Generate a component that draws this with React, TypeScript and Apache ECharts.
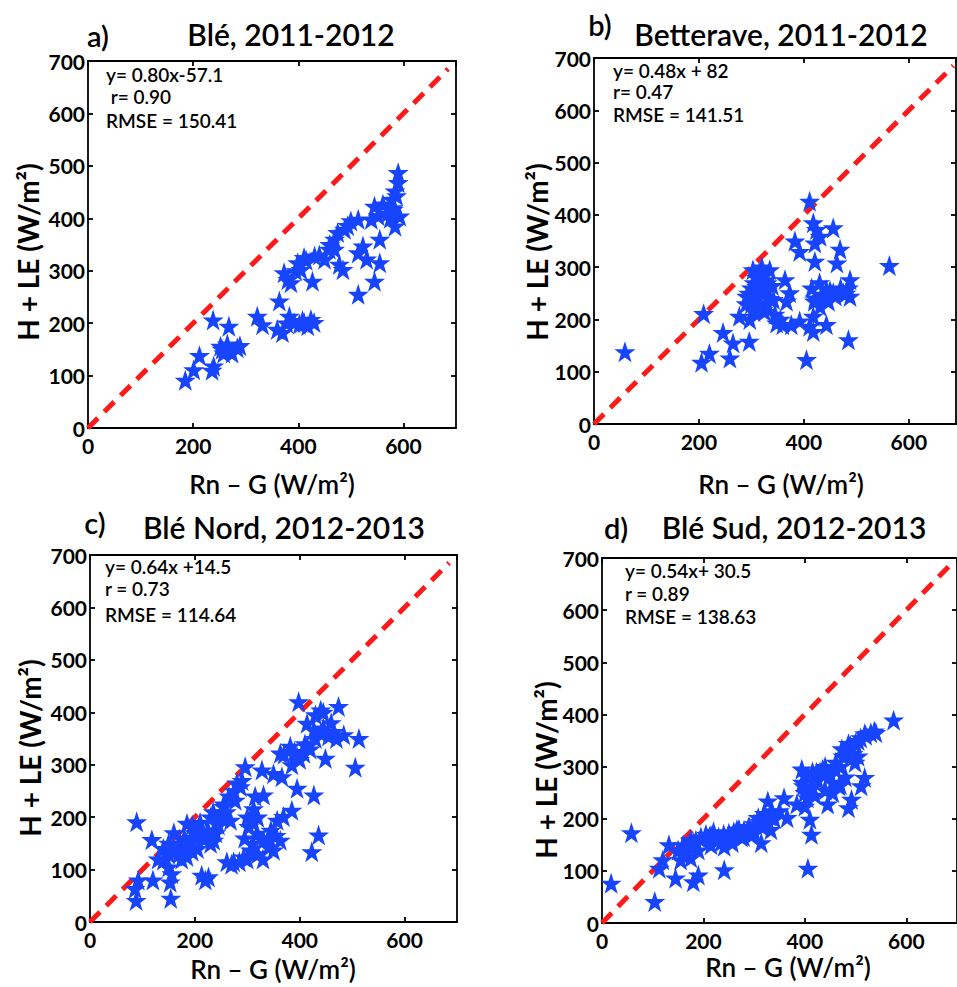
import React, { useEffect, useRef } from "react";
import * as echarts from "echarts";

// ---------- data ----------
const panelLetters = ["a)", "b)", "c)", "d)"];
const panelTitles = ["Blé, 2011-2012", "Betterave, 2011-2012", "Blé Nord, 2012-2013", "Blé Sud, 2012-2013"];
const eqLines = [
  ["y= 0.80x-57.1", " r= 0.90", "RMSE = 150.41"],
  ["y= 0.48x + 82", "r= 0.47", "RMSE = 141.51"],
  ["y= 0.64x +14.5", "r = 0.73", "RMSE = 114.64"],
  ["y= 0.54x+ 30.5", "r = 0.89", "RMSE = 138.63"],
];
const xName = "Rn – G (W/m²)";
const yName = "H + LE (W/m²)";
const axisMax = [700, 690, 700, 700];
const oneToOne: [number, number][] = [[0, 0], [685, 685]];

const bleA: [number, number][] = [
  [185, 91], [201, 111], [212, 138], [238, 206], [268, 194], [236, 110], [239, 118], [252, 156],
  [258, 143], [265, 150], [274, 143], [289, 157], [284, 153], [265, 160], [255, 150],
  [322, 213], [332, 197], [364, 242], [360, 188], [370, 182], [383, 213], [392, 201], [402, 198],
  [411, 201], [424, 207], [430, 201], [408, 205], [418, 195], [378, 200],
  [373, 296], [380, 283], [386, 277], [399, 315], [405, 302], [427, 280], [411, 325], [431, 328],
  [450, 322], [459, 341], [469, 360], [475, 373], [488, 379], [494, 386], [485, 302], [478, 312],
  [395, 300], [415, 320], [440, 330], [460, 350], [469, 341],
  [514, 398], [539, 398], [552, 405], [523, 347], [514, 334], [530, 322], [514, 255], [545, 280],
  [555, 315], [555, 360], [561, 427], [581, 417], [584, 385], [593, 404], [584, 452], [590, 468],
  [590, 487], [578, 436], [587, 443], [545, 423], [500, 395], [570, 410], [575, 400], [580, 420],
];

const betteraveB: [number, number][] = [
  [59, 138], [205, 118], [220, 135], [209, 211], [246, 175], [265, 155], [259, 126], [296, 158],
  [277, 206], [297, 200], [291, 244], [303, 295], [316, 283], [329, 276], [335, 295], [310, 263],
  [319, 251], [303, 238], [329, 232], [322, 219], [342, 238], [364, 276], [373, 251], [367, 235],
  [348, 193], [360, 190], [376, 190], [392, 197], [411, 187], [418, 177], [443, 190], [405, 123],
  [411, 426], [418, 385], [424, 372], [431, 359], [421, 346], [456, 375], [383, 350], [392, 330],
  [421, 311], [469, 334], [463, 308], [488, 276], [485, 260], [488, 244], [475, 251], [456, 251],
  [443, 257], [434, 248], [421, 241], [431, 225], [447, 235], [418, 206], [485, 161], [563, 303],
  [305, 270], [310, 280], [315, 290], [320, 300], [325, 285], [330, 270], [300, 260], [295, 250],
  [310, 250], [320, 260], [330, 255], [335, 240], [340, 265], [300, 230], [315, 225], [345, 210],
  [355, 200], [325, 215], [290, 230], [305, 215], [440, 240], [450, 255], [460, 245], [470, 260],
  [480, 250], [430, 270], [420, 235], [415, 260],
];

const bleNordC: [number, number][] = [
  [89, 191], [88, 41], [86, 64], [92, 80], [120, 80], [118, 157], [154, 45], [153, 76], [156, 92],
  [150, 105], [140, 118], [150, 150], [166, 137], [172, 150], [185, 188], [178, 131], [191, 143],
  [201, 162], [210, 175], [223, 162], [236, 156], [213, 89], [226, 86], [220, 80], [242, 194],
  [255, 220], [268, 194], [277, 232], [287, 258], [296, 296], [261, 115], [274, 115], [293, 124],
  [306, 137], [312, 216], [303, 182], [319, 169], [331, 156], [341, 143], [350, 137], [363, 156],
  [357, 194], [369, 201], [385, 213], [331, 242], [328, 290], [350, 283], [366, 277], [395, 255],
  [427, 242], [436, 166], [423, 134], [363, 322], [382, 335], [395, 315], [408, 322], [414, 335],
  [398, 420], [414, 379], [440, 404], [440, 360], [449, 312], [474, 411], [484, 357], [513, 350],
  [506, 295], [465, 363], [427, 366],
  [160, 140], [170, 130], [180, 160], [190, 150], [200, 170], [205, 140], [215, 160], [225, 175],
  [230, 150], [240, 170], [245, 185], [250, 200], [260, 210], [175, 120], [185, 125], [195, 135],
  [140, 140], [150, 130], [130, 120], [210, 190], [230, 200], [255, 225], [265, 240], [275, 250],
  [280, 265], [290, 270], [300, 120], [285, 115], [270, 110], [310, 150], [320, 130], [330, 120],
  [340, 160], [345, 175], [355, 165], [310, 190], [300, 200], [295, 160], [315, 240], [320, 200],
  [370, 320], [390, 325], [400, 310], [385, 300], [410, 340], [420, 330], [430, 350], [445, 370],
  [455, 355], [460, 380], [470, 350], [430, 395], [445, 400], [160, 170], [195, 185], [235, 210],
];

const bleSudD: [number, number][] = [
  [18, 76], [58, 173], [104, 41], [113, 105], [120, 121], [132, 150], [145, 86], [155, 121],
  [164, 147], [180, 79], [190, 92], [168, 134], [180, 154], [196, 160], [212, 166], [228, 160],
  [241, 102], [241, 147], [257, 154], [266, 179], [279, 166], [289, 183], [301, 173], [314, 154],
  [308, 202], [320, 192], [327, 234], [333, 179], [359, 240], [365, 202], [384, 228], [394, 295],
  [397, 263], [400, 224], [410, 199], [413, 170], [406, 105], [423, 289], [435, 295], [448, 282],
  [445, 228], [461, 308], [467, 263], [486, 221], [492, 237], [473, 334], [486, 344], [505, 350],
  [518, 363], [537, 368], [575, 389], [511, 263], [518, 279], [499, 308], [480, 321],
  [150, 140], [160, 150], [170, 145], [175, 160], [185, 158], [195, 165], [205, 170], [215, 168],
  [220, 175], [230, 165], [240, 170], [250, 172], [260, 175], [270, 180], [280, 178], [290, 185],
  [300, 190], [310, 195], [320, 210], [330, 205], [340, 200], [350, 215], [160, 130], [175, 125],
  [190, 140], [215, 150], [235, 155], [255, 160], [275, 165], [295, 170], [315, 185], [335, 215],
  [395, 270], [405, 280], [415, 260], [425, 275], [430, 290], [440, 300], [450, 285], [455, 270],
  [460, 295], [470, 300], [475, 320], [485, 330], [490, 340], [495, 325], [500, 345], [510, 355],
  [520, 360], [530, 365], [540, 365], [505, 320], [415, 290], [400, 250], [405, 240], [420, 245],
  [440, 255], [455, 250], [470, 265], [480, 280],
];

const panelData = [bleA, betteraveB, bleNordC, bleSudD];

// ---------- layout ----------
const grids = [
  { left: 88, top: 61, width: 368, height: 367 },
  { left: 594, top: 58, width: 362, height: 366 },
  { left: 90, top: 555, width: 367, height: 367 },
  { left: 602, top: 558, width: 367, height: 365 },
];
const letterPos = [[98, 35], [600, 24], [95, 522], [616, 527]];
const titlePos = [[291, 34], [781, 34], [284, 527], [794, 527]];
const eqPos = [[106, 74], [613, 70], [105, 566], [625, 570]];
const eqStep = [[0, 22, 46], [0, 21, 44], [0, 22, 48], [0, 23, 46]];
const yNamePos = [[28, 252], [537, 252], [30, 748], [546, 770]];
const xNamePos = [[272, 484], [781, 484], [273, 969], [788, 967]];

const STAR = "path://M50,2 L61.5,36 L97,36 L68.5,57.5 L79.5,92 L50,71 L20.5,92 L31.5,57.5 L3,36 L38.5,36 Z";
const FONT = "Lato, 'Open Sans', sans-serif";

export default function App() {
  const ref = useRef<HTMLDivElement>(null);
  useEffect(() => {
    if (!ref.current) return;
    const chart = echarts.init(ref.current, null, { renderer: "svg" });
    const grid: any[] = [];
    const xAxis: any[] = [];
    const yAxis: any[] = [];
    const series: any[] = [];
    const graphic: any[] = [];
    const lineStyle = { color: "#000", width: 1.8 };
    const labelStyle = { color: "#000", fontSize: 21, fontWeight: "bold", fontFamily: FONT };
    for (let i = 0; i < 4; i++) {
      grid.push({ ...grids[i], containLabel: false, show: false });
      const common = { min: 0, interval: 200, splitLine: { show: false }, gridIndex: i };
      xAxis.push({
        ...common, type: "value", max: axisMax[i], position: "bottom",
        axisLine: { show: true, lineStyle, onZero: false },
        axisTick: { show: true, inside: true, length: 5, lineStyle },
        axisLabel: { ...labelStyle, margin: 7, showMaxLabel: false },
      });
      xAxis.push({
        ...common, type: "value", max: axisMax[i], position: "top",
        axisLine: { show: true, lineStyle, onZero: false },
        axisTick: { show: true, inside: true, length: 5, lineStyle },
        axisLabel: { show: false },
      });
      yAxis.push({
        ...common, type: "value", max: 700, interval: 100, position: "left",
        axisLine: { show: true, lineStyle, onZero: false },
        axisTick: { show: true, inside: true, length: 5, lineStyle },
        axisLabel: { ...labelStyle, margin: 3 },
      });
      yAxis.push({
        ...common, type: "value", max: 700, interval: 100, position: "right",
        axisLine: { show: true, lineStyle, onZero: false },
        axisTick: { show: true, inside: true, length: 5, lineStyle },
        axisLabel: { show: false },
      });
      series.push({
        type: "line", xAxisIndex: 2 * i, yAxisIndex: 2 * i, data: oneToOne, symbol: "none",
        lineStyle: { color: "#ff1a1a", width: 5, type: [14, 9] }, z: 2, silent: true,
      });
      series.push({
        type: "scatter", xAxisIndex: 2 * i, yAxisIndex: 2 * i, data: panelData[i],
        symbol: STAR, symbolSize: 21, itemStyle: { color: "#1745ff", opacity: 1 }, z: 3,
      });
      graphic.push({
        type: "text", x: letterPos[i][0], y: letterPos[i][1],
        style: { text: panelLetters[i], fontSize: 29, fontWeight: 600, fontFamily: FONT, fill: "#000", align: "center", verticalAlign: "middle" },
      });
      graphic.push({
        type: "text", x: titlePos[i][0], y: titlePos[i][1],
        style: { text: panelTitles[i], fontSize: 30, fontWeight: 600, fontFamily: FONT, fill: "#000", align: "center", verticalAlign: "middle" },
      });
      for (let k = 0; k < 3; k++) {
        graphic.push({
          type: "text", x: eqPos[i][0], y: eqPos[i][1] + eqStep[i][k],
          style: { text: eqLines[i][k], fontSize: 19, fontWeight: 600, fontFamily: FONT, fill: "#000", align: "left", verticalAlign: "middle" },
        });
      }
      graphic.push({
        type: "text", x: yNamePos[i][0], y: yNamePos[i][1], rotation: Math.PI / 2,
        style: { text: yName, fontSize: 28, fontWeight: "bold", fontFamily: FONT, fill: "#000", align: "center", verticalAlign: "middle" },
      });
      graphic.push({
        type: "text", x: xNamePos[i][0], y: xNamePos[i][1],
        style: { text: xName, fontSize: 26, fontWeight: 600, fontFamily: FONT, fill: "#000", align: "center", verticalAlign: "middle" },
      });
    }
    chart.setOption({
      animation: false,
      backgroundColor: "#fff",
      grid, xAxis, yAxis, series, graphic,
    });
    return () => chart.dispose();
  }, []);
  return <div ref={ref} style={{ position: "absolute", left: 0, top: 0, width: 957, height: 987 }} />;
}
